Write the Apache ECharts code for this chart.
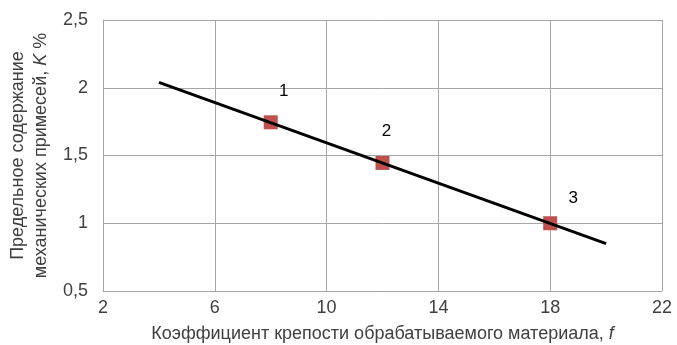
<!DOCTYPE html>
<html><head><meta charset="utf-8">
<script src="https://cdn.jsdelivr.net/npm/echarts@6/dist/echarts.min.js"></script>
<style>html,body{margin:0;padding:0;background:#fff}#c{width:677px;height:345px}</style>
</head><body><div id="c"></div>
<script>
var trendX = [4, 20];
var trendY = [2.04, 0.85];
var pointX = [8, 12, 18];
var pointY = [1.745, 1.445, 1.0];
var pointLabels = ['1', '2', '3'];
var labelOffsets = [[13, -31], [4, -32], [23, -25]];

var chart = echarts.init(document.getElementById('c'));
var font = '"Liberation Sans", Arial, sans-serif';
chart.setOption({
  animation: false,
  grid: {left: 103, right: 15, top: 20, bottom: 54, outerBoundsMode: 'none', containLabel: false},
  xAxis: {
    type: 'value', min: 2, max: 22, interval: 4,
    axisLine: {show: true, lineStyle: {color: '#a6a6a6'}},
    axisTick: {show: false},
    splitLine: {show: true, lineStyle: {color: '#a6a6a6'}},
    axisLabel: {color: '#404040', fontSize: 18, fontFamily: font, margin: 8},
    name: 'Коэффициент крепости обрабатываемого материала, {i|f}',
    nameLocation: 'middle', nameGap: 34,
    nameTextStyle: {color: '#404040', fontSize: 18, fontFamily: font,
      rich: {i: {fontStyle: 'italic', fontSize: 18, fontFamily: font, color: '#404040'}}}
  },
  yAxis: {
    type: 'value', min: 0.5, max: 2.5, interval: 0.5,
    axisLine: {show: true, lineStyle: {color: '#a6a6a6'}},
    axisTick: {show: false},
    splitLine: {show: true, lineStyle: {color: '#a6a6a6'}},
    axisLabel: {color: '#404040', fontSize: 18, fontFamily: font, margin: 15,
      formatter: function (v) { return String(v).replace('.', ','); }},
    name: 'Предельное содержание\nмеханических примесей, {i|K} %',
    nameLocation: 'middle', nameGap: 47, nameRotate: 90,
    nameTextStyle: {color: '#404040', fontSize: 18, fontFamily: font, lineHeight: 23,
      rich: {i: {fontStyle: 'italic', fontSize: 18, fontFamily: font, color: '#404040', lineHeight: 23}}}
  },
  series: [
    {
      type: 'line',
      data: trendX.map(function (x, i) { return [x, trendY[i]]; }),
      showSymbol: false, symbol: 'none',
      lineStyle: {color: '#000', width: 3},
      z: 3
    },
    {
      type: 'scatter',
      data: pointX.map(function (x, i) {
        return {value: [x, pointY[i]],
          label: {show: true, formatter: pointLabels[i], position: 'inside', offset: labelOffsets[i],
            color: '#000', fontSize: 17, fontFamily: font}};
      }),
      symbol: 'rect', symbolSize: 14,
      itemStyle: {color: '#c0504d', opacity: 1},
      z: 2
    }
  ]
});
</script>
</body></html>
